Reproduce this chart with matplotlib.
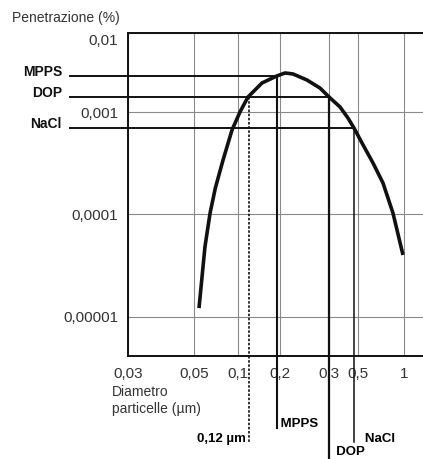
import numpy as np
import matplotlib
matplotlib.use('Agg')
import matplotlib.pyplot as plt
from matplotlib.transforms import ScaledTranslation

plt.rcParams['font.family'] = ['Liberation Sans', 'DejaVu Sans']

# curva di penetrazione (diametro in um, penetrazione in %)
diametro = [0.0541, 0.0594, 0.0644, 0.0700, 0.0790, 0.0910, 0.1033, 0.118,
            0.1486, 0.190, 0.2086, 0.2227, 0.250, 0.2785, 0.30, 0.364, 0.419,
            0.466, 0.531, 0.627, 0.729, 0.847, 0.985]
penetrazione = [1.22e-5, 4.79e-5, 1.02e-4, 1.80e-4, 3.38e-4, 6.66e-4, 1.0e-3, 1.55e-3,
                2.33e-3, 2.86e-3, 3.12e-3, 3.03e-3, 2.54e-3, 2.01e-3, 1.55e-3, 1.16e-3, 8.73e-4,
                6.97e-4, 4.97e-4, 3.16e-4, 2.01e-4, 1.02e-4, 4.0e-5]

# punti notevoli
punti_nomi = ['MPPS', 'DOP', 'NaCl']
punti_x = [0.19, 0.30, 0.466]
punti_y = [2.86e-3, 1.55e-3, 6.97e-4]
x_012 = 0.12

xticks = [0.03, 0.05, 0.1, 0.2, 0.3, 0.5, 1]
xtick_labels = ['0,03', '0,05', '0,1', '0,2', '0,3', '0,5', '1']
yticks = [1e-5, 1e-4, 1e-3, 1e-2]
ytick_labels = ['0,00001', '0,0001', '0,001', '0,01']

# scala schematica del disegno originale (non logaritmica pura)
x_knot_val = [0.03, 0.05, 0.1, 0.2, 0.3, 0.5, 1, 1.331]
x_knot_pix = [128, 194, 238, 280, 329, 358, 404, 423]
y_knot_val = [4.18e-6, 1e-5, 1e-4, 1e-3, 1e-2]
y_knot_pix = [459 - 356, 459 - 317, 459 - 214, 459 - 112, 459 - 33]


def funzioni_scala(vals, pix):
    lv = np.log10(vals)

    def fwd(v):
        with np.errstate(divide='ignore', invalid='ignore'):
            return np.interp(np.log10(v), lv, pix)

    def inv(p):
        return 10 ** np.interp(p, pix, lv)

    return fwd, inv


fig = plt.figure(figsize=(4.23, 4.59), dpi=100)
ax = fig.add_axes([128 / 423, 1 - 356 / 459, 295 / 423, 323 / 459])
ax.set_xscale('function', functions=funzioni_scala(x_knot_val, x_knot_pix))
ax.set_yscale('function', functions=funzioni_scala(y_knot_val, y_knot_pix))
ax.set_xlim(x_knot_val[0], x_knot_val[-1])
ax.set_ylim(y_knot_val[0], y_knot_val[-1])

ax.set_xticks(xticks)
ax.set_xticklabels(xtick_labels)
ax.set_yticks(yticks)
ax.set_yticklabels(ytick_labels)
ax.minorticks_off()
ax.tick_params(length=0, labelsize=11, labelcolor='#333333')
ax.tick_params(axis='x', pad=8)
ax.tick_params(axis='y', pad=7)
ax.grid(True, color='#8a8a8a', lw=0.8)
ax.set_axisbelow(True)

# etichetta 0,01 un po' sotto il bordo superiore, come nell'originale
lab_top = ax.get_yticklabels()[-1]
lab_top.set_transform(lab_top.get_transform() + ScaledTranslation(0, -5 / 72, fig.dpi_scale_trans))

for s in ['left', 'bottom', 'top']:
    ax.spines[s].set_linewidth(1.4)
    ax.spines[s].set_color('#111111')
ax.spines['right'].set_visible(False)

ax.plot(diametro, penetrazione, color='#111111', lw=2.6, solid_capstyle='butt',
        solid_joinstyle='round', zorder=5)

# linee di riferimento dentro e fuori dagli assi
basso = [-0.223, -0.33, -0.266]
larg = [1.5, 1.6, 1.1]
xt = ax.get_xaxis_transform()
yt = ax.get_yaxis_transform()
for nome, px, py, b, w in zip(punti_nomi, punti_x, punti_y, basso, larg):
    ax.plot([px, px], [py, y_knot_val[0]], color='#111111', lw=w, zorder=4)
    ax.plot([px, px], [0, b], color='#111111', lw=w, transform=xt, clip_on=False)
    ax.plot([x_knot_val[0], px], [py, py], color='#111111', lw=1.4, zorder=4)
    ax.plot([-0.197, 0], [py, py], color='#111111', lw=1.4, transform=yt, clip_on=False)
    ax.text(-0.224, py, nome, transform=yt, ha='right', va='baseline',
            fontsize=10, fontweight='bold', color='#111111')

ax.text(punti_x[0], -0.22, ' ' + punti_nomi[0], transform=xt, ha='left', va='baseline',
        fontsize=9.5, fontweight='bold')
ax.text(punti_x[1], -0.305, '  ' + punti_nomi[1], transform=xt, ha='left', va='baseline',
        fontsize=9.5, fontweight='bold')
ax.text(punti_x[2], -0.266, '   ' + punti_nomi[2], transform=xt, ha='left', va='baseline',
        fontsize=9.5, fontweight='bold')

ax.plot([x_012, x_012], [punti_y[1], y_knot_val[0]], color='#111111', lw=1.2,
        ls=(0, (1.5, 1)), zorder=4)
ax.plot([x_012, x_012], [0, -0.269], color='#111111', lw=1.2, ls=(0, (1.5, 1)),
        transform=xt, clip_on=False)
ax.text(x_012, -0.266, '0,12 µm ', transform=xt, ha='right', va='baseline',
        fontsize=9.5, fontweight='bold')

ax.text(-0.054, -0.09, 'Diametro\nparticelle (µm)', transform=ax.transAxes,
        ha='left', va='top', fontsize=10, color='#333333', linespacing=1.25)
fig.text(12 / 423, 1 - 18 / 459, 'Penetrazione (%)', ha='left', va='center',
         fontsize=10, color='#333333')

fig.savefig('out.png', dpi=100)
